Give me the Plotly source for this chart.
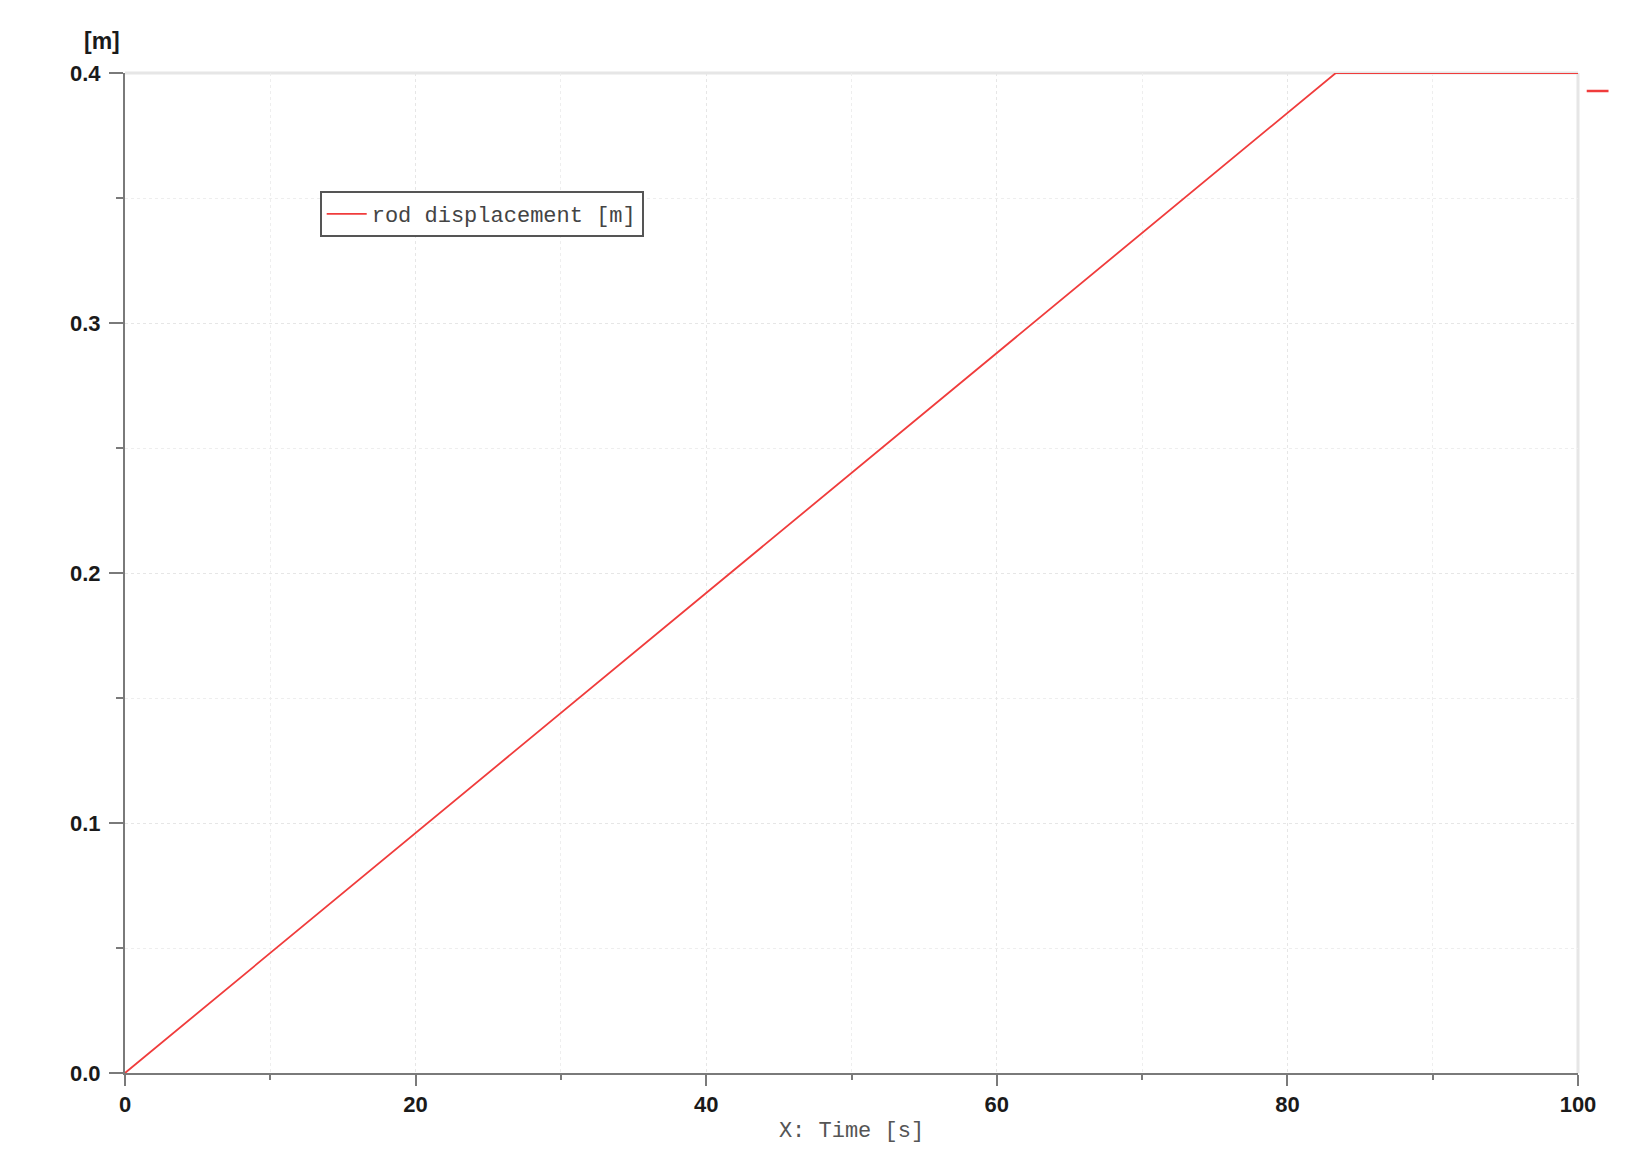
# Rod displacement vs time, redrawn with plotly
import plotly.graph_objects as go

# data
time_s = [0, 83.33, 100]
rod_disp_m = [0, 0.4, 0.4]

x_ticks = [0, 20, 40, 60, 80, 100]
y_ticks = [0.0, 0.1, 0.2, 0.3, 0.4]
y_tick_text = ["0.0", "0.1", "0.2", "0.3", "0.4"]

RED = "#f03c3c"
AXIS = "#7a7a7a"
GRID = "#e6e6e6"
mono = "Liberation Mono, DejaVu Sans Mono, monospace"
tickfont = dict(family="Liberation Sans, Arial, sans-serif", size=22, color="#1a1a1a", weight="bold")

fig = go.Figure()
fig.add_trace(go.Scatter(
    x=time_s, y=rod_disp_m,
    mode="lines",
    name="rod displacement [m]",
    line=dict(color=RED, width=1.8),
))

# the page body adds 8px, so margins are trimmed by that
fig.update_layout(
    width=1644, height=1160,
    margin=dict(l=117, r=74, t=65, b=95),
    paper_bgcolor="white",
    plot_bgcolor="white",
    showlegend=True,
    legend=dict(
        x=0.134, y=0.882, xanchor="left", yanchor="top",
        bgcolor="white", bordercolor="#555555", borderwidth=2,
        font=dict(family=mono, size=22, color="#444444"),
        itemwidth=40,
    ),
    xaxis=dict(
        range=[0, 100], tickvals=x_ticks,
        showline=True, linecolor=AXIS, linewidth=2,
        ticks="outside", ticklen=11, tickwidth=2, tickcolor=AXIS,
        showgrid=True, gridcolor=GRID, griddash="dot", gridwidth=1,
        minor=dict(dtick=10, ticks="outside", ticklen=5, tickcolor=AXIS,
                   showgrid=True, gridcolor="#eeeeee", griddash="dot"),
        zeroline=False,
        tickfont=tickfont,
        title=dict(text="X: Time [s]", font=dict(family=mono, size=22, color="#555555"), standoff=5),
    ),
    yaxis=dict(
        range=[0, 0.4], tickvals=y_ticks, ticktext=y_tick_text,
        showline=True, linecolor=AXIS, linewidth=2,
        ticks="outside", ticklen=14, tickwidth=2, tickcolor=AXIS,
        ticklabelstandoff=4,
        showgrid=True, gridcolor=GRID, griddash="dot", gridwidth=1,
        minor=dict(dtick=0.05, ticks="outside", ticklen=7, tickcolor=AXIS,
                   showgrid=True, gridcolor="#eeeeee", griddash="dot"),
        zeroline=False,
        tickfont=tickfont,
    ),
)

# light frame on top and right
fig.add_shape(type="line", xref="paper", yref="paper", x0=0, x1=1, y0=1, y1=1,
              line=dict(color="#e6e6e6", width=3), layer="below")
fig.add_shape(type="line", xref="paper", yref="paper", x0=1, x1=1, y0=0, y1=1,
              line=dict(color="#e6e6e6", width=3), layer="below")
# small red marker outside the plot on the right
fig.add_shape(type="line", xref="paper", yref="paper", x0=1.006, x1=1.021, y0=0.982, y1=0.982,
              line=dict(color=RED, width=2.5))

# unit label above the y axis
fig.add_annotation(text="[m]", xref="paper", yref="paper", x=-0.016, y=1.032,
                   xanchor="center", yanchor="middle", showarrow=False,
                   font=dict(family="Liberation Sans, Arial, sans-serif", size=23, color="#1a1a1a", weight="bold"))

fig.write_html("out.html")
